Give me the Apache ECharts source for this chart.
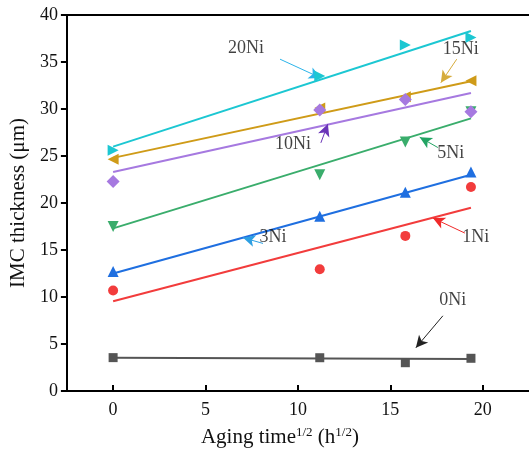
<!DOCTYPE html>
<html>
<head>
<meta charset="utf-8">
<script src="https://cdn.jsdelivr.net/npm/echarts@6/dist/echarts.min.js"></script>
<style>
  html, body { margin: 0; padding: 0; background: #fff; }
  #chart { width: 529px; height: 457px; }
</style>
</head>
<body>
<div id="chart"></div>
<script>
// aging time^1/2 : 0, 125, 250, 375 h
const times = [0, 11.18, 15.81, 19.36];
const xTicks = [0, 5, 10, 15, 20];

// measured IMC thickness (µm)
const ni0  = [3.55, 3.54, 3.01, 3.48];
const ni1  = [10.7, 12.95, 16.5, 21.7];
const ni3  = [12.7, 18.6, 21.15, 23.3];
const ni5  = [17.5, 23.0, 26.5, 29.7];
const ni10 = [22.3, 29.9, 31.0, 29.7];
const ni15 = [24.65, 30.1, 31.3, 33.0];
const ni20 = [25.6, 33.5, 36.8, 37.6];

// linear fit, value at first and last time
const fit0  = [3.55, 3.4];
const fit1  = [9.55, 19.5];
const fit3  = [12.5, 23.0];
const fit5  = [17.3, 29.0];
const fit10 = [23.3, 31.7];
const fit15 = [24.8, 32.95];
const fit20 = [26.0, 38.3];

// annotations: label, text position, arrow tail, arrow tip
const notes = [
  { name: '20Ni', at: [7.19, 36.5], from: [9.03, 35.3], to: [11.24, 33.3], color: '#2bb4ea' },
  { name: '15Ni', at: [18.81, 36.4], from: [18.59, 35.3], to: [17.73, 32.8], color: '#d6ac3c' },
  { name: '10Ni', at: [9.73, 26.2], from: [11.24, 26.4], to: [11.62, 28.4], color: '#6a34b8' },
  { name: '5Ni', at: [18.27, 25.3], from: [17.57, 25.9], to: [16.59, 27.0], color: '#22a463' },
  { name: '3Ni', at: [8.65, 16.4], from: [8.11, 15.7], to: [7.03, 16.3], color: '#2d9fe2' },
  { name: '1Ni', at: [19.62, 16.4], from: [19.03, 16.8], to: [17.3, 18.4], color: '#f02a2a' },
  { name: '0Ni', at: [18.38, 9.6], from: [17.84, 8.0], to: [16.38, 4.6], color: '#222222' },
];

const groups = [
  { name: '0Ni',  pts: ni0,  fit: fit0,  color: '#555555', symbol: 'rect',     size: 9,  rot: 0 },
  { name: '1Ni',  pts: ni1,  fit: fit1,  color: '#f23c3c', symbol: 'circle',   size: 10, rot: 0 },
  { name: '3Ni',  pts: ni3,  fit: fit3,  color: '#1f6fe0', symbol: 'triangle', size: 11, rot: 0 },
  { name: '5Ni',  pts: ni5,  fit: fit5,  color: '#3aad6c', symbol: 'triangle', size: 11, rot: 180 },
  { name: '15Ni', pts: ni15, fit: fit15, color: '#cf9b18', symbol: 'triangle', size: 11, rot: 90 },
  { name: '10Ni', pts: ni10, fit: fit10, color: '#a679e0', symbol: 'diamond',  size: 13, rot: 0 },
  { name: '20Ni', pts: ni20, fit: fit20, color: '#1cc7d2', symbol: 'triangle', size: 11, rot: -90 },
];

const font = 'Liberation Serif';
const series = [];

groups.forEach((g) => {
  series.push({
    type: 'line',
    data: [[times[0], g.fit[0]], [times[times.length - 1], g.fit[1]]],
    showSymbol: false,
    silent: true,
    lineStyle: { color: g.color, width: 2 },
    z: 2,
  });
});
groups.forEach((g, i) => {
  series.push({
    type: 'scatter',
    data: times.map((t, k) => [t, g.pts[k]]),
    symbol: g.symbol,
    symbolSize: g.size,
    symbolRotate: g.rot,
    itemStyle: { color: g.color, opacity: 1 },
    z: 3 + i,
  });
});

// arrows
series.push({
  type: 'line',
  data: [],
  silent: true,
  markLine: {
    silent: true,
    animation: false,
    symbol: ['none', 'arrow'],
    symbolSize: [9, 12],
    label: { show: false },
    data: notes.map((n) => [
      { coord: n.from, lineStyle: { color: n.color, width: 1, type: 'solid' } },
      { coord: n.to },
    ]),
  },
  z: 20,
});

// annotation text
series.push({
  type: 'scatter',
  data: notes.map((n) => ({ value: n.at, name: n.name })),
  symbolSize: 0,
  silent: true,
  label: {
    show: true,
    position: 'inside',
    formatter: (p) => p.name,
    color: '#111',
    fontFamily: font,
    fontSize: 18,
  },
  z: 21,
});

const chart = echarts.init(document.getElementById('chart'));
chart.setOption({
  animation: false,
  backgroundColor: '#fff',
  grid: { left: 63, top: 15, bottom: 66, right: -43 },
  xAxis: [{
    type: 'value',
    min: -2.5,
    max: 22.5,
    splitLine: { show: false },
    axisLine: { onZero: false, lineStyle: { color: '#000', width: 2 } },
    axisTick: { customValues: xTicks, inside: true, length: 6, lineStyle: { color: '#000', width: 2 } },
    axisLabel: { customValues: xTicks, margin: 10, color: '#111', fontFamily: font, fontSize: 18 },
    name: '{a|Aging time}{s|1/2}{a| (h}{s|1/2}{a|)}',
    nameLocation: 'middle',
    nameGap: 35,
    nameTextStyle: {
      padding: [0, 36, 0, 0],
      rich: {
        a: { fontFamily: font, fontSize: 21, color: '#111' },
        s: { fontFamily: font, fontSize: 13, color: '#111', verticalAlign: 'top', padding: [0, 0, 9, 0] },
      },
    },
  }, {
    type: 'value',
    position: 'top',
    min: -2.5,
    max: 22.5,
    splitLine: { show: false },
    axisLine: { onZero: false, lineStyle: { color: '#000', width: 2 } },
    axisTick: { show: false },
    axisLabel: { show: false },
  }],
  yAxis: {
    type: 'value',
    min: 0,
    max: 40,
    interval: 5,
    splitLine: { show: false },
    axisLine: { show: true, onZero: false, lineStyle: { color: '#000', width: 2 } },
    axisTick: { show: true, length: 6, lineStyle: { color: '#000', width: 2 } },
    axisLabel: { margin: 9, color: '#111', fontFamily: font, fontSize: 18 },
    name: 'IMC thickness (μm)',
    nameLocation: 'middle',
    nameGap: 36,
    nameTextStyle: { fontFamily: font, fontSize: 21, color: '#111' },
  },
  series,
});
</script>
</body>
</html>
